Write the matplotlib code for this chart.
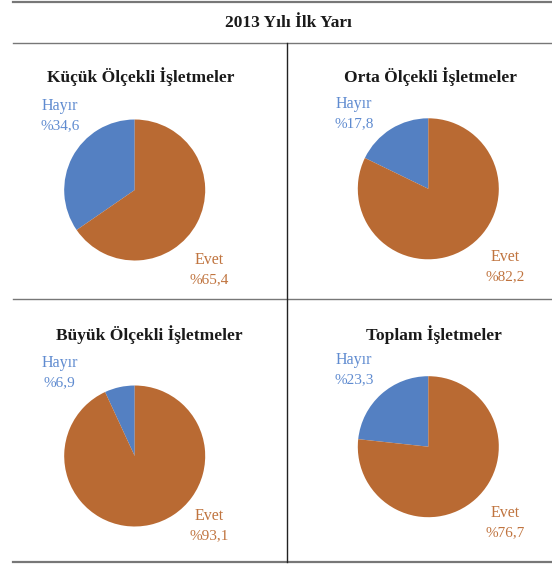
import matplotlib
matplotlib.use("Agg")
import matplotlib.pyplot as plt
from matplotlib.lines import Line2D

W, H = 552, 565

main_title = "2013 Yılı İlk Yarı"
panel_titles = ["Küçük Ölçekli İşletmeler", "Orta Ölçekli İşletmeler",
                "Büyük Ölçekli İşletmeler", "Toplam İşletmeler"]
categories = ["Hayır", "Evet"]
hayir = [34.6, 17.8, 6.9, 23.3]
evet = [65.4, 82.2, 93.1, 76.7]

blue = "#5480c2"
orange = "#b96a33"
blue_txt = "#5f8bd0"
orange_txt = "#c0743f"

plt.rcParams["font.family"] = ["Liberation Serif", "DejaVu Serif"]

fig = plt.figure(figsize=(W / 100, H / 100), dpi=100)


def fx(x):
    return x / W


def fy(y):
    return 1 - y / H


def hline(y, lw, color):
    fig.add_artist(Line2D([fx(13), fx(552)], [fy(y), fy(y)], lw=lw, color=color))


# table rules
hline(1.5, 1.6, "#777777")
hline(42.5, 1.0, "#777777")
hline(299, 1.0, "#777777")
hline(561.5, 1.6, "#777777")
fig.add_artist(Line2D([fx(287.3), fx(287.3)], [fy(42.5), fy(561.5)], lw=1.0, color="#222222"))

fig.text(fx(288), fy(23), main_title, ha="center", va="center",
         fontsize=12.5, fontweight="bold", color="#1a1a1a")

# pie centres (px), title positions, label anchors
centers = [(134.7, 190), (428.3, 188.8), (134.7, 456), (428.3, 446.7)]
title_pos = [(140.5, 77), (430.5, 77), (149.7, 335), (434, 335)]
hayir_pos = [(60, 106), (354, 104), (59.5, 362.7), (354, 360)]
evet_pos = [(209, 260), (505, 257), (209, 516), (505, 513)]
r = 70.5

for i in range(4):
    cx, cy = centers[i]
    ax = fig.add_axes([fx(cx - r), fy(cy + r), 2 * r / W, 2 * r / H])
    ax.pie([hayir[i], evet[i]], colors=[blue, orange], startangle=90,
           counterclock=True, radius=1)
    ax.set_xlim(-1, 1)
    ax.set_ylim(-1, 1)
    ax.set_aspect("auto")
    ax.axis("off")

    tx, ty = title_pos[i]
    fig.text(fx(tx), fy(ty), panel_titles[i], ha="center", va="center",
             fontsize=12.5, fontweight="bold", color="#1a1a1a")

    hx, hy = hayir_pos[i]
    fig.text(fx(hx), fy(hy), categories[0], ha="center", va="center",
             fontsize=11.5, color=blue_txt)
    fig.text(fx(hx), fy(hy + 19.5), "%" + f"{hayir[i]:.1f}".replace(".", ","),
             ha="center", va="center", fontsize=11, color=blue_txt)

    ex, ey = evet_pos[i]
    fig.text(fx(ex), fy(ey), categories[1], ha="center", va="center",
             fontsize=11.5, color=orange_txt)
    fig.text(fx(ex), fy(ey + 20), "%" + f"{evet[i]:.1f}".replace(".", ","),
             ha="center", va="center", fontsize=11, color=orange_txt)

fig.savefig("out.png", dpi=100)
